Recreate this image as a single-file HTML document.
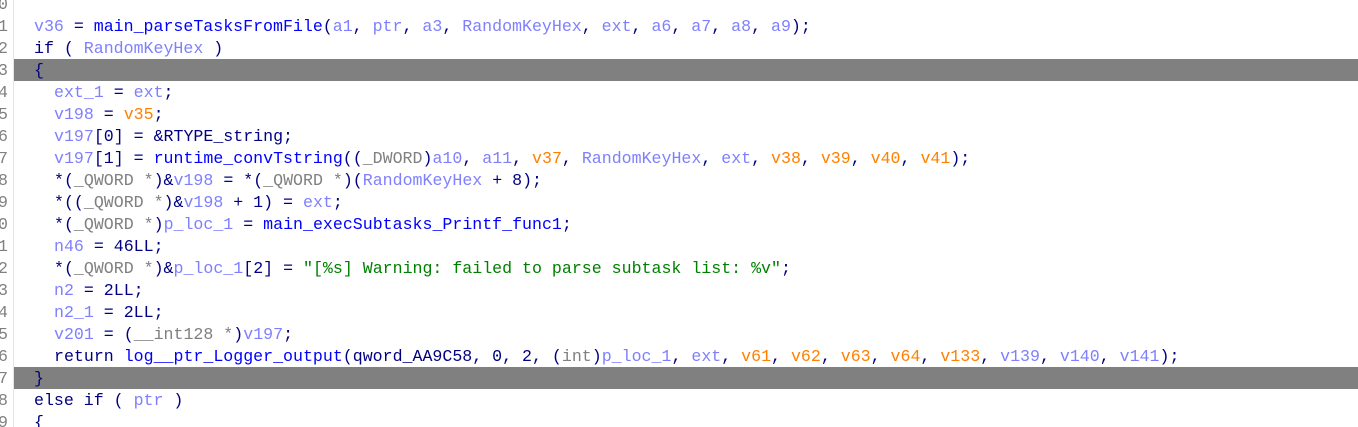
<!DOCTYPE html>
<html><head><meta charset="utf-8"><style>
html,body{margin:0;padding:0;background:#fff;width:1358px;height:427px;overflow:hidden;}
body{position:relative;font-family:"Liberation Mono",monospace;font-size:16.6px;color:#000080;}
.vl{position:absolute;left:13px;top:0;width:1px;height:427px;background:#e4e4e4;}
.band{position:absolute;left:14px;width:1344px;height:22px;background:#808080;}
.ln{position:absolute;left:0;width:8px;height:22px;line-height:24px;overflow:hidden;color:#808080;text-align:right;direction:rtl;}
.l{position:absolute;height:22px;line-height:24px;white-space:pre;}
.v{color:#7f7fff}.f{color:#0000ff}.o{color:#ff8000}.g{color:#008000}.t{color:#808080}
</style></head><body>
<div class="vl"></div>
<div class="band" style="top:59px"></div>
<div class="band" style="top:367px"></div>
<div class="ln" style="top:-7px">0</div>
<div class="ln" style="top:15px">1</div>
<div class="ln" style="top:37px">2</div>
<div class="ln" style="top:59px">3</div>
<div class="ln" style="top:81px">4</div>
<div class="ln" style="top:103px">5</div>
<div class="ln" style="top:125px">6</div>
<div class="ln" style="top:147px">7</div>
<div class="ln" style="top:169px">8</div>
<div class="ln" style="top:191px">9</div>
<div class="ln" style="top:213px">0</div>
<div class="ln" style="top:235px">1</div>
<div class="ln" style="top:257px">2</div>
<div class="ln" style="top:279px">3</div>
<div class="ln" style="top:301px">4</div>
<div class="ln" style="top:323px">5</div>
<div class="ln" style="top:345px">6</div>
<div class="ln" style="top:367px">7</div>
<div class="ln" style="top:389px">8</div>
<div class="ln" style="top:411px">9</div>

<div class="l" style="top:15px;left:34px"><span class="v">v36</span> = <span class="f">main_parseTasksFromFile</span>(<span class="v">a1</span>, <span class="v">ptr</span>, <span class="v">a3</span>, <span class="v">RandomKeyHex</span>, <span class="v">ext</span>, <span class="v">a6</span>, <span class="v">a7</span>, <span class="v">a8</span>, <span class="v">a9</span>);</div>
<div class="l" style="top:37px;left:34px">if ( <span class="v">RandomKeyHex</span> )</div>
<div class="l" style="top:59px;left:34px">{</div>
<div class="l" style="top:81px;left:54px"><span class="v">ext_1</span> = <span class="v">ext</span>;</div>
<div class="l" style="top:103px;left:54px"><span class="v">v198</span> = <span class="o">v35</span>;</div>
<div class="l" style="top:125px;left:54px"><span class="v">v197</span>[0] = &amp;RTYPE_string;</div>
<div class="l" style="top:147px;left:54px"><span class="v">v197</span>[1] = <span class="f">runtime_convTstring</span>((<span class="t">_DWORD</span>)<span class="v">a10</span>, <span class="v">a11</span>, <span class="o">v37</span>, <span class="v">RandomKeyHex</span>, <span class="v">ext</span>, <span class="o">v38</span>, <span class="o">v39</span>, <span class="o">v40</span>, <span class="o">v41</span>);</div>
<div class="l" style="top:169px;left:54px">*(<span class="t">_QWORD *</span>)&amp;<span class="v">v198</span> = *(<span class="t">_QWORD *</span>)(<span class="v">RandomKeyHex</span> + 8);</div>
<div class="l" style="top:191px;left:54px">*((<span class="t">_QWORD *</span>)&amp;<span class="v">v198</span> + 1) = <span class="v">ext</span>;</div>
<div class="l" style="top:213px;left:54px">*(<span class="t">_QWORD *</span>)<span class="v">p_loc_1</span> = <span class="f">main_execSubtasks_Printf_func1</span>;</div>
<div class="l" style="top:235px;left:54px"><span class="v">n46</span> = 46LL;</div>
<div class="l" style="top:257px;left:54px">*(<span class="t">_QWORD *</span>)&amp;<span class="v">p_loc_1</span>[2] = <span class="g">"[%s] Warning: failed to parse subtask list: %v"</span>;</div>
<div class="l" style="top:279px;left:54px"><span class="v">n2</span> = 2LL;</div>
<div class="l" style="top:301px;left:54px"><span class="v">n2_1</span> = 2LL;</div>
<div class="l" style="top:323px;left:54px"><span class="v">v201</span> = (<span class="t">__int128 *</span>)<span class="v">v197</span>;</div>
<div class="l" style="top:345px;left:54px">return <span class="f">log__ptr_Logger_output</span>(qword_AA9C58, 0, 2, (<span class="t">int</span>)<span class="v">p_loc_1</span>, <span class="v">ext</span>, <span class="o">v61</span>, <span class="o">v62</span>, <span class="o">v63</span>, <span class="o">v64</span>, <span class="o">v133</span>, <span class="v">v139</span>, <span class="v">v140</span>, <span class="v">v141</span>);</div>
<div class="l" style="top:367px;left:34px">}</div>
<div class="l" style="top:389px;left:34px">else if ( <span class="v">ptr</span> )</div>
<div class="l" style="top:411px;left:34px">{</div>
</body></html>
